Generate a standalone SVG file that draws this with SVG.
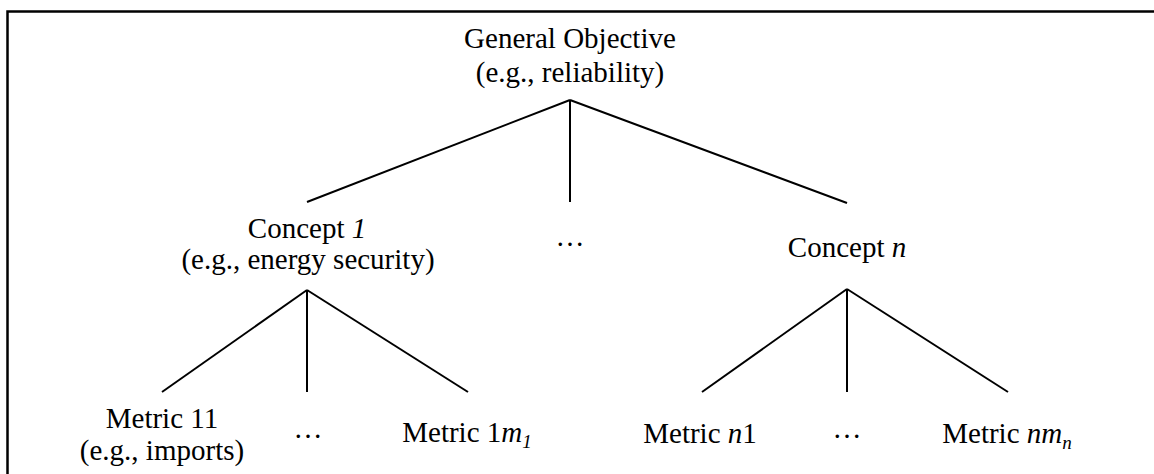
<svg xmlns="http://www.w3.org/2000/svg" width="1154" height="474" viewBox="0 0 1154 474">
<style>
text{font-family:"Liberation Serif","Times New Roman",serif;font-size:29px;fill:#000;text-anchor:middle}
.i{font-style:italic}
.sub{font-size:19px;font-style:italic}
line,path{stroke:#000;stroke-width:2;fill:none}
</style>
<rect width="1154" height="474" fill="#fff"/>
<path d="M7.5,480 V11.5 H1160" style="stroke-width:2.5"/>
<g id="connectors">
<line x1="570" y1="100" x2="307" y2="202"/>
<line x1="570" y1="100" x2="570" y2="202"/>
<line x1="570" y1="100" x2="847" y2="203"/>
<line x1="307" y1="290" x2="162" y2="392"/>
<line x1="307" y1="290" x2="307" y2="392"/>
<line x1="307" y1="290" x2="468" y2="392"/>
<line x1="847" y1="289" x2="702" y2="392"/>
<line x1="847" y1="289" x2="847" y2="392"/>
<line x1="847" y1="289" x2="1008" y2="392"/>
</g>
<g id="general"><text x="570" y="48">General Objective</text><text x="570" y="82">(e.g., reliability)</text></g>
<g id="concept1"><text x="307" y="238">Concept <tspan class="i">1</tspan></text><text x="308" y="269">(e.g., energy security)</text></g>
<g id="conceptdots"><text x="570" y="246">…</text></g>
<g id="conceptn"><text x="847" y="257">Concept <tspan class="i">n</tspan></text></g>
<g id="metric11"><text x="162" y="428">Metric 11</text><text x="162" y="460">(e.g., imports)</text></g>
<g id="metric1dots"><text x="308" y="438">…</text></g>
<g id="metric1m1"><text x="467" y="442">Metric 1<tspan class="i">m</tspan><tspan class="sub" dy="6">1</tspan></text></g>
<g id="metricn1"><text x="700" y="443">Metric <tspan class="i">n</tspan>1</text></g>
<g id="metricndots"><text x="847" y="438">…</text></g>
<g id="metricnmn"><text x="1007" y="443">Metric <tspan class="i">nm</tspan><tspan class="sub" dy="6">n</tspan></text></g>
</svg>
